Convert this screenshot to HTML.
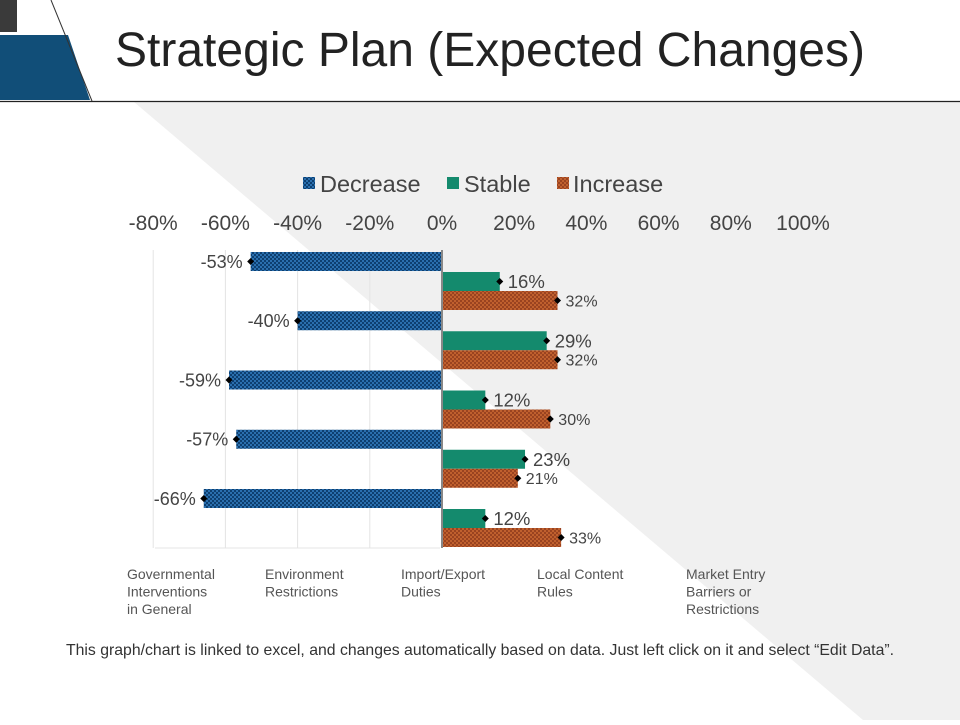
<!DOCTYPE html>
<html><head><meta charset="utf-8"><style>
body{margin:0;width:960px;height:720px;overflow:hidden;background:#fff;font-family:"Liberation Sans",Arial,sans-serif;}
#root{position:relative;width:960px;height:720px;}
svg text{font-family:"Liberation Sans",Arial,sans-serif;}
</style></head><body>
<div id="root">
<svg id="chart" width="960" height="720" xmlns="http://www.w3.org/2000/svg">
<defs>
<pattern id="pDec" width="4" height="4" patternUnits="userSpaceOnUse"><rect width="4" height="4" fill="#2a6fae"/><rect width="2" height="2" fill="#0d3f70"/><rect x="2" y="2" width="2" height="2" fill="#0d3f70"/></pattern>
<pattern id="pInc" width="4" height="4" patternUnits="userSpaceOnUse"><rect width="4" height="4" fill="#c0602e"/><rect width="2" height="2" fill="#9a4320"/><rect x="2" y="2" width="2" height="2" fill="#9a4320"/></pattern>
</defs>
<polygon points="134,102 960,102 960,720 863,720" fill="#f0f0f0"/>
<rect x="0" y="0" width="17" height="32" fill="#3a3a3a"/>
<polygon points="0,35 68,35 90,100 0,100" fill="#114e78"/>
<line x1="51" y1="0" x2="92" y2="101" stroke="#333" stroke-width="1"/>
<line x1="0" y1="101.5" x2="960" y2="101.5" stroke="#222" stroke-width="1.2"/>
<text x="115" y="66" font-size="48" fill="#222" textLength="750">Strategic Plan (Expected Changes)</text>
<g id="legend">
<rect x="303" y="177" width="12" height="12" fill="url(#pDec)"/>
<text x="320" y="192" font-size="23.5" fill="#444">Decrease</text>
<rect x="447" y="177" width="12" height="12" fill="#148a6d"/>
<text x="464" y="192" font-size="23.5" fill="#444">Stable</text>
<rect x="557" y="177" width="12" height="12" fill="url(#pInc)"/>
<text x="573" y="192" font-size="23.5" fill="#444">Increase</text>
</g>
<g id="grid"></g><g id="ticks"></g><g id="bars"></g><g id="cats"></g>
<text x="480" y="655" font-size="15.8" fill="#333" text-anchor="middle">This graph/chart is linked to excel, and changes automatically based on data. Just left click on it and select “Edit Data”.</text>
</svg>
</div>
<script>
const categories=[["Governmental","Interventions","in General"],["Environment","Restrictions"],["Import/Export","Duties"],["Local Content","Rules"],["Market Entry","Barriers or","Restrictions"]];
const decreaseValues=[-53,-40,-59,-57,-66];
const stableValues=[16,29,12,23,12];
const increaseValues=[32,32,30,21,33];
const tickValues=[-80,-60,-40,-20,0,20,40,60,80,100];
const catX=[127,265,401,537,686];
const NS="http://www.w3.org/2000/svg";
const x=v=>442+v*3.61;
const groupTop=i=>252+i*59.25;
function mk(tag,attrs,parent){const e=document.createElementNS(NS,tag);for(const k in attrs)e.setAttribute(k,attrs[k]);parent.appendChild(e);return e;}
const grid=document.getElementById('grid'),ticks=document.getElementById('ticks'),bars=document.getElementById('bars'),cats=document.getElementById('cats');
tickValues.forEach(t=>{
  if(t<0||t===-80){const g=mk('line',{x1:x(t),x2:x(t),y1:250,y2:548,stroke:'#e4e4e4','stroke-width':1},grid);
  
  }
  const tx=mk('text',{x:x(t),y:230,'font-size':21,fill:'#444','text-anchor':'middle'},ticks);tx.textContent=t+'%';
  
  
});
const bl=mk('line',{x1:155,x2:440,y1:548,y2:548,stroke:'#e4e4e4'},grid);


const series=[[decreaseValues,'url(#pDec)',0,'decrease',18],[stableValues,'#148a6d',20,'stable',18.5],[increaseValues,'url(#pInc)',39,'increase',16]];
series.forEach(([vals,fill,off,name,fs])=>{
  vals.forEach((v,i)=>{
    const y=groupTop(i)+off,h=19;
    const r=mk('rect',{x:Math.min(x(0),x(v)),y:y,width:Math.abs(x(v)-x(0)),height:h,fill:fill},bars);
    
    
    const ex=x(v),cy=y+h/2;
    const m=mk('polygon',{points:`${ex-3.5},${cy} ${ex},${cy-3.5} ${ex+3.5},${cy} ${ex},${cy+3.5}`,fill:'#000'},bars);
    
    
    const t=mk('text',{x:v<0?ex-8:ex+8,y:cy+fs*0.36,'font-size':fs,fill:'#444','text-anchor':v<0?'end':'start'},bars);
    t.textContent=v+'%';
    
    
  });
});
const ax=mk('line',{x1:442,x2:442,y1:250,y2:548,stroke:'#888','stroke-width':2},bars);


categories.forEach((lines,i)=>{
  const t=mk('text',{x:catX[i],y:579,'font-size':14,fill:'#555'},cats);
  
  
  lines.forEach((l,j)=>{const s=mk('tspan',{x:catX[i],dy:j?17.5:0},t);s.textContent=l;});
});
</script>
</body></html>
